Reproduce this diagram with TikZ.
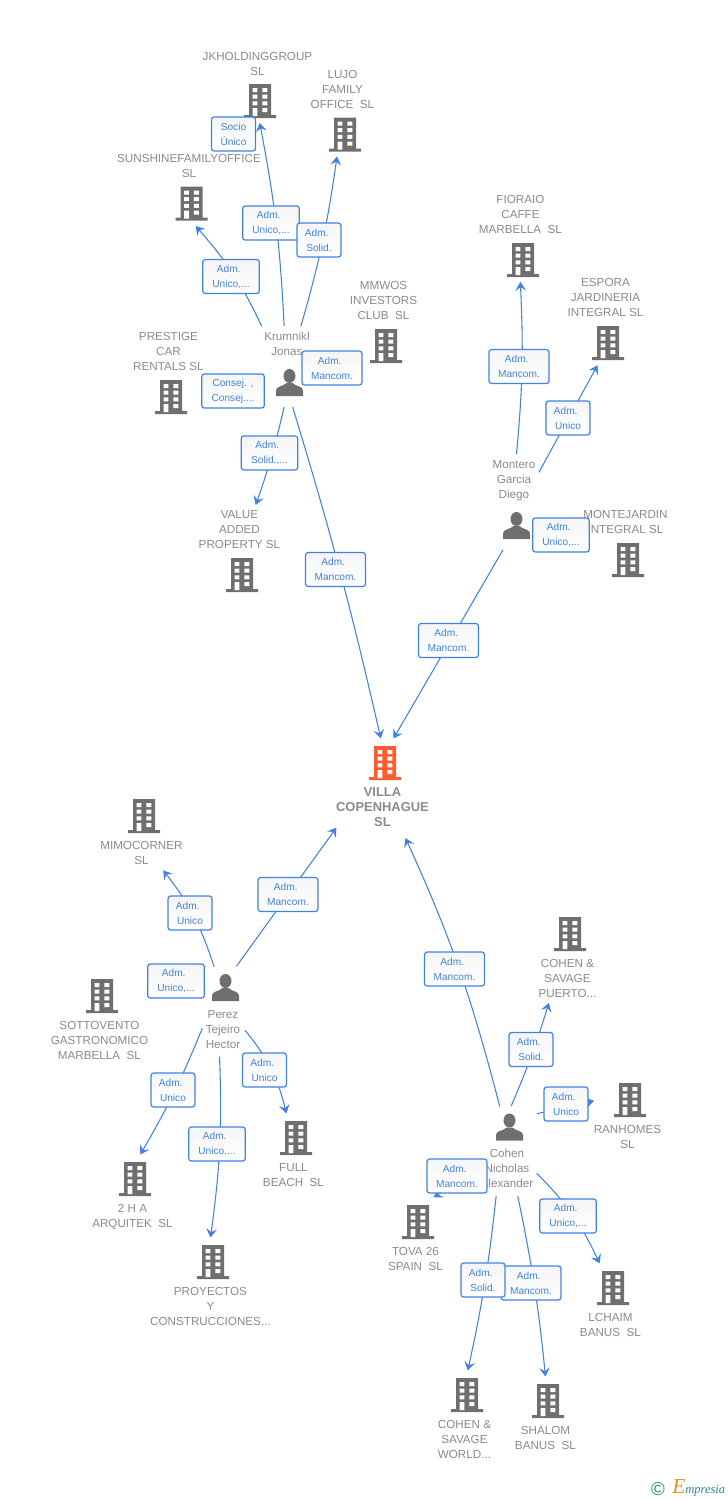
\documentclass[tikz,border=0pt]{standalone}
\usepackage{fontspec}
\setmainfont{Liberation Sans}
\newfontfamily\brandfont{Liberation Serif}
\usetikzlibrary{positioning,fit,arrows.meta}
\definecolor{linkblue}{HTML}{3F82E2}
\definecolor{namegray}{HTML}{8A8A8A}
\definecolor{icongray}{HTML}{6F6F6F}
\definecolor{hubred}{HTML}{FF5B2E}
\definecolor{brandteal}{HTML}{2F7F96}
\definecolor{brandorange}{HTML}{F28A1C}
\newcommand{\hubfont}{\bfseries\fontsize{9.7}{11.25}\selectfont}
\newcommand{\adm}{Adm.\kern3.4pt}
\newcommand{\bldgshape}[1]{%
  \fill[#1] (-11,-17) rectangle (11,15) (-16,14) rectangle (16,17);
  \fill[white] (-7.3,-13) rectangle (-2.7,-9) (2.4,-13) rectangle (7.3,-9)
    (-7.3,-6.3) rectangle (-2.7,-2.3) (2.4,-6.3) rectangle (7.3,-2.3)
    (-7.3,0.3) rectangle (-2.7,4.3) (2.4,0.3) rectangle (7.3,4.3)
    (-7.3,7) rectangle (-2.7,15) (2.4,7) rectangle (7.3,11);
}
\newcommand{\entity}[5]{%
  \node[iconbox] (#1i) at (#3) {};
  \pic at (#1i) {#2};
  \node[nametext,#4 of #1i] (#1t) {\strut #5\strut};
  \node[group,fit=(#1i)(#1t)] (#1) {};
}
\tikzset{
  bldg/.pic={\bldgshape{icongray}},
  hub/.pic={\bldgshape{hubred}},
  person/.pic={
    \fill[icongray] (0,-6.5) ellipse (6 and 7);
    \fill[icongray] (-13.5,13.5) -- (-13.5,8) .. controls (-13.5,3.5) and (-6,4) .. (-3,0.5)
      -- (3,0.5) .. controls (6,4) and (13.5,3.5) .. (13.5,8) -- (13.5,13.5) -- cycle;
  }
}
\begin{document}
\begin{tikzpicture}[
      x=0.75pt, y=-0.75pt,
      iconbox/.style={minimum width=24pt, minimum height=31.5pt, inner sep=0pt},
      nametext/.style={
            text=namegray, align=center, inner sep=0pt, xshift=-1.9pt,
            font=\fontsize{8.75}{11.25}\selectfont
        },
      group/.style={inner sep=2.25pt},
      link/.style={linkblue, line width=0.8pt, -{Stealth[length=6.5pt,width=8pt,inset=2.5pt]}},
      uplink/.style={link, shorten >=-2pt},
      tag/.style={
            rectangle, draw=linkblue, line width=0.9pt, rounded corners=2pt,
            top color=black!4, bottom color=white, text=linkblue, align=center,
            inner sep=0pt, minimum height=25.5pt,
            font=\fontsize{7.6}{11.25}\selectfont
        },
      tags/.style={tag, minimum width=33pt},
      tagm/.style={tag, minimum width=42.5pt},
      tagl/.style={tag, minimum width=45pt},
      tagx/.style={tag, minimum width=47pt}
      ]
    \useasboundingbox (0,0) rectangle (728,1500);

    \entity{villa}{hub}{385,763}{below=1pt}{\hubfont VILLA\\\hubfont COPENHAGUE\\\hubfont SL}

    \entity{krum}{person}{289.5,382.5}{above=1pt}{Krumnikl\\Jonas}
    \entity{jk}{bldg}{260,101}{above=-0.6pt}{JKHOLDINGGROUP\\SL}
    \entity{lujo}{bldg}{345,134.5}{above=0pt}{LUJO\\FAMILY\\OFFICE\ \ SL}
    \entity{sun}{bldg}{191.5,203.5}{above=0pt}{SUNSHINEFAMILYOFFICE\\SL}
    \entity{mmwos}{bldg}{386,346}{above=0pt}{MMWOS\\INVESTORS\\CLUB\ \ SL}
    \entity{prestige}{bldg}{171,397}{above=0pt}{PRESTIGE\\CAR\\RENTALS SL}
    \entity{value}{bldg}{242,575}{above=0pt}{VALUE\\ADDED\\PROPERTY SL}

    \entity{montero}{person}{516.5,525.5}{above=1pt}{Montero\\Garcia\\Diego}
    \entity{fioraio}{bldg}{523,260}{above=0pt}{FIORAIO\\CAFFE\\MARBELLA\ \ SL}
    \entity{espora}{bldg}{608,343}{above=0pt}{ESPORA\\JARDINERIA\\INTEGRAL SL}
    \entity{montej}{bldg}{628,560}{above=0pt}{MONTEJARDIN\\INTEGRAL SL}

    \entity{perez}{person}{225.5,987.5}{below=-0.8pt}{Perez\\Tejeiro\\Hector}
    \entity{mimo}{bldg}{144,816}{below=1pt}{MIMOCORNER\\SL}
    \entity{sotto}{bldg}{102,996}{below=1pt}{SOTTOVENTO\\GASTRONOMICO\\MARBELLA\ \ SL}
    \entity{dosha}{bldg}{135,1179}{below=1pt}{2 H A\\ARQUITEK\ \ SL}
    \entity{full}{bldg}{296,1138}{below=1pt}{FULL\\BEACH\ \ SL}
    \entity{proy}{bldg}{213,1262}{below=1pt}{PROYECTOS\\Y\\CONSTRUCCIONES...}

    \entity{cohen}{person}{509.5,1127}{below=-0.8pt}{Cohen\\Nicholas\\Alexander}
    \entity{puerto}{bldg}{570,934}{below=1pt}{COHEN \&\\SAVAGE\\PUERTO...}
    \entity{ranho}{bldg}{630,1100}{below=1pt}{RANHOMES\\SL}
    \entity{tova}{bldg}{418,1222}{below=1pt}{TOVA 26\\SPAIN\ \ SL}
    \entity{lchaim}{bldg}{613,1288}{below=1pt}{LCHAIM\\BANUS\ \ SL}
    \entity{world}{bldg}{467,1395}{below=1pt}{COHEN \&\\SAVAGE\\WORLD...}
    \entity{shalom}{bldg}{548,1401}{below=1pt}{SHALOM\\BANUS\ \ SL}

    \draw[uplink] (krum.94) to[bend right=4] (jk.-86);
    \draw[uplink] (krum.71) to[bend right=4] (lujo.-97);
    \draw[uplink] (krum.122) to[bend right=8] (sun.-78);
    \draw[link] (krum.-94) to[bend left=3] (value.71);
    \draw[link] (krum.-82) to[bend left=2] (villa.92);
    \draw[uplink] (montero.87) to[bend right=4] (fioraio.south);
    \draw[uplink] (montero.50) -- (espora.-101);
    \draw[link] (montero.-103) -- (villa.77);
    \draw[link,shorten <=-3pt,shorten >=-5pt] (perez.72) -- (villa.-137);
    \draw[uplink,shorten <=-3pt] (perez.103) to[bend right=10] (mimo.-60);
    \draw[link] (perez.-139) to[bend left=4] (dosha.79);
    \draw[link] (perez.-44) to[bend left=13] (full.100);
    \draw[link] (perez.-95) to[bend left=5] (proy.north);
    \draw[link,shorten <=-3pt,shorten >=3pt] (cohen.100) to[bend right=5] (villa.-66);
    \draw[uplink,shorten <=-3pt] (cohen.83) to[bend right=3] (puerto.-112);
    \draw[link,shorten >=-3pt] (cohen.50) -- (ranho.159);
    \draw[link] (cohen.-146) -- (tova.66);
    \draw[link] (cohen.-39) to[bend left=10] (lchaim.105);
    \draw[link] (cohen.-103) to[bend left=3] (world.86);
    \draw[link] (cohen.-77) to[bend left=3] (shalom.north);

    \node[tags] (tjk) at (233.5,134) {Socio\\Único};
    \node[tagm] (tjk2) at (271,223) {\adm\\Unico,...};
    \node[tags] (tlujo) at (319,240) {\adm\\Solid.};
    \node[tagm] (tsun) at (231,276.5) {\adm\\Unico,...};
    \node[tagx] (tprestige) at (233,391) {Consej. ,\\Consej....};
    \node[tagl] (tmmwos) at (332,368) {\adm\\Mancom.};
    \node[tagm] (tvalue) at (269.5,453) {\adm\\Solid.,...};
    \node[tagl] (tkrum) at (335.5,569.5) {\adm\\Mancom.};
    \node[tagl] (tfioraio) at (519,366.5) {\adm\\Mancom.};
    \node[tags] (tespora) at (568,418) {\adm\\Unico};
    \node[tagm] (tmontej) at (561,535) {\adm\\Unico,...};
    \node[tagl] (tmontero) at (448.5,640.5) {\adm\\Mancom.};
    \node[tagl] (tperez) at (288,894.5) {\adm\\Mancom.};
    \node[tags] (tmimo) at (190,913) {\adm\\Unico};
    \node[tagm] (tsotto) at (176,981) {\adm\\Unico,...};
    \node[tags] (tdosha) at (173,1090) {\adm\\Unico};
    \node[tags] (tfull) at (264.5,1070) {\adm\\Unico};
    \node[tagm] (tproy) at (217,1144) {\adm\\Unico,...};
    \node[tagl] (tcohen) at (454.5,969) {\adm\\Mancom.};
    \node[tags] (tpuerto) at (531,1049.5) {\adm\\Solid.};
    \node[tags] (tranho) at (566,1104) {\adm\\Unico};
    \node[tagl] (ttova) at (457,1176) {\adm\\Mancom.};
    \node[tagm] (tlchaim) at (568,1216) {\adm\\Unico,...};
    \node[tagl] (tshalom) at (531,1283) {\adm\\Mancom.};
    \node[tags] (tworld) at (483,1280) {\adm\\Solid.};

    \node[text=brandteal, inner sep=0pt, font=\fontsize{14}{14}\selectfont] (copy) at (658,1489) {©};
    \node[text=brandteal, inner sep=0pt, anchor=base west, font=\brandfont\itshape\fontsize{9.4}{10}\selectfont] (brand) at (672,1493)
      {\textcolor{brandorange}{\fontsize{16}{16}\selectfont E}mpresia};
  \end{tikzpicture}
\end{document}
